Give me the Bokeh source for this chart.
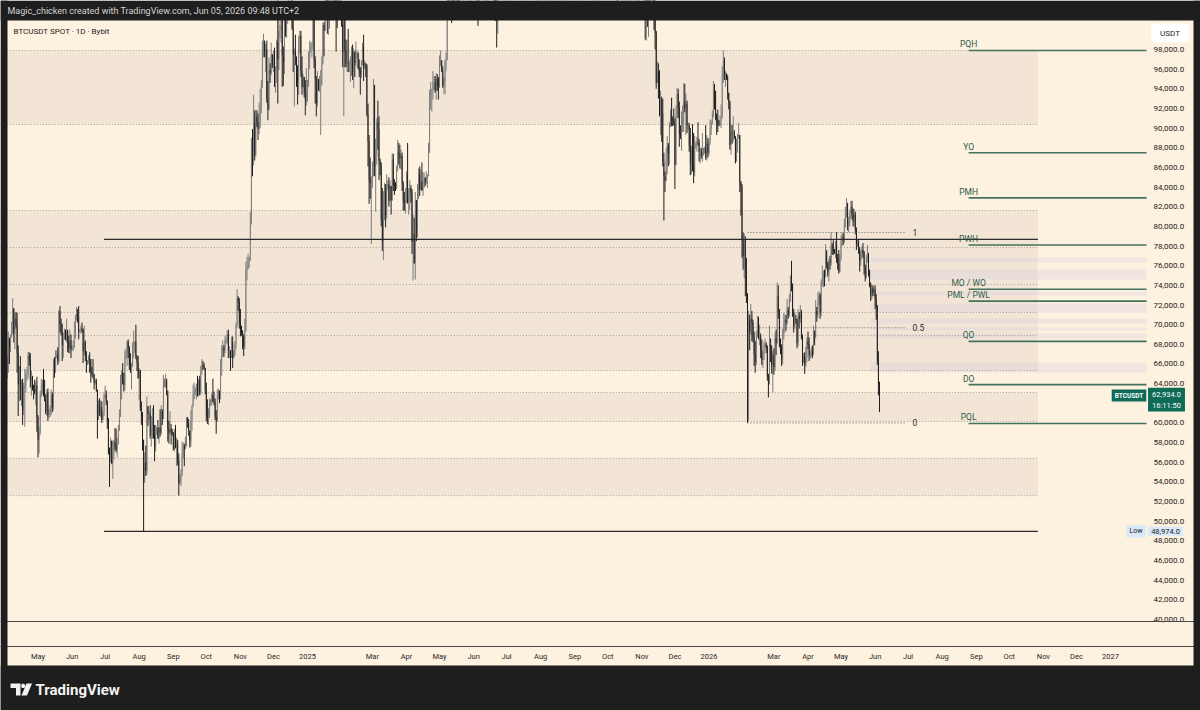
import numpy as np
import pandas as pd
from bokeh.plotting import figure
from bokeh.models import (Range1d, LinearAxis, FixedTicker, NumeralTickFormatter,
                          ColumnDataSource, Label, Span, PolyAnnotation, BoxAnnotation)
from bokeh.core.properties import value
from bokeh.embed import file_html
from bokeh.resources import INLINE

# ------------------------------------------------------------------ data
title_text = "Magic_chicken created with TradingView.com, Jun 05, 2026 09:48 UTC+2"
header_text = "BTCUSDT SPOT \u00b7 1D \u00b7 Bybit"
first_day = "2024-04-03"
first_open = 65.5  # thousand USDT (previous close)

# daily closes / highs / lows in thousand USDT, one line per month
close_2024 = [
    66.0, 68.5, 67.8, 68.9, 69.4, 71.6, 69.1, 70.6, 70.0, 67.1, 63.9, 65.7, 63.4, 63.8, 61.3, 63.5, 63.8, 64.9, 64.9, 66.8, 66.4, 64.3, 64.5, 63.8, 63.4, 63.1, 63.8, 60.6,
    58.3, 59.1, 62.9, 63.9, 64.0, 63.2, 62.3, 61.2, 63.1, 60.8, 60.8, 61.5, 62.9, 61.6, 66.3, 65.2, 67.0, 67.0, 66.3, 71.4, 70.1, 69.2, 67.9, 68.5, 69.3, 68.5, 69.4, 68.3, 67.6, 68.4, 67.5,
    67.8, 67.8, 68.8, 70.6, 71.1, 70.8, 69.3, 69.3, 69.6, 69.5, 67.3, 68.2, 66.8, 66.0, 66.2, 66.6, 66.5, 65.2, 65.0, 64.9, 64.1, 64.3, 63.2, 60.3, 61.8, 60.9, 61.6, 60.3, 60.9, 62.7,
    62.9, 62.1, 60.2, 57.0, 56.7, 58.2, 55.9, 56.7, 58.0, 57.7, 57.3, 57.9, 59.2, 60.8, 64.8, 65.1, 64.1, 63.9, 66.7, 67.2, 68.2, 67.6, 65.9, 65.4, 65.8, 67.9, 68.0, 68.3, 66.8, 66.2, 64.6,
    65.4, 61.5, 60.7, 58.1, 54.0, 56.0, 55.1, 61.7, 60.9, 60.9, 58.7, 59.4, 60.6, 58.7, 57.5, 58.9, 59.5, 58.4, 59.5, 59.0, 61.2, 60.4, 64.1, 64.2, 64.3, 62.9, 59.4, 59.0, 59.4, 59.1, 58.9,
    57.3, 59.1, 57.5, 58.0, 56.2, 53.9, 54.2, 54.9, 57.0, 57.6, 57.4, 58.1, 60.5, 60.0, 59.2, 58.2, 60.3, 61.8, 62.9, 63.2, 63.6, 63.6, 63.3, 64.3, 63.1, 65.2, 65.9, 65.8, 65.6, 63.3,
    60.8, 60.6, 60.8, 62.1, 62.1, 62.8, 62.2, 62.1, 60.6, 60.3, 62.4, 63.2, 62.9, 66.0, 67.0, 67.6, 67.4, 68.4, 68.4, 69.0, 67.4, 67.4, 66.7, 68.2, 66.6, 67.0, 68.0, 69.9, 72.7, 72.3, 70.2,
    69.5, 69.4, 68.8, 67.8, 69.4, 75.6, 75.9, 76.5, 76.7, 80.5, 88.7, 88.0, 90.5, 87.3, 91.1, 90.6, 89.9, 90.5, 92.3, 94.3, 98.3, 98.9, 97.7, 98.0, 93.0, 91.9, 95.9, 95.6, 97.5, 96.4,
    97.2, 95.8, 96.0, 98.8, 97.0, 99.9, 99.9, 101.2, 97.4, 96.7, 101.2, 100.0, 101.4, 101.4, 104.3, 106.0, 106.1, 100.2, 97.5, 97.8, 97.2, 95.2, 94.9, 98.7, 99.4, 95.8, 94.2, 95.2, 93.6, 92.8, 93.4,
]
high_2024 = [
    66.9, 69.3, 68.7, 69.0, 70.3, 72.7, 71.7, 71.2, 71.3, 71.2, 67.9, 65.8, 66.8, 64.4, 64.5, 64.1, 65.5, 65.4, 65.7, 67.2, 67.2, 67.1, 65.3, 64.8, 63.9, 64.4, 64.2, 64.7,
    60.8, 59.6, 63.3, 64.5, 64.4, 65.5, 64.4, 62.9, 63.4, 63.5, 61.4, 61.8, 63.4, 63.1, 66.5, 66.7, 67.4, 67.4, 67.7, 71.5, 71.9, 70.6, 70.1, 69.2, 69.6, 69.5, 70.6, 69.5, 68.9, 69.5, 69.0,
    67.9, 68.4, 70.3, 71.0, 71.8, 71.6, 71.9, 69.5, 69.9, 70.2, 69.6, 69.9, 68.4, 67.3, 66.4, 66.9, 67.2, 66.5, 65.7, 66.5, 65.0, 64.5, 64.5, 63.4, 62.3, 62.5, 62.3, 62.2, 61.2, 63.0,
    63.8, 63.3, 62.3, 60.5, 57.5, 58.5, 58.2, 58.2, 58.3, 59.5, 59.4, 58.5, 59.8, 61.4, 64.9, 65.4, 66.1, 65.1, 67.4, 67.6, 68.4, 68.5, 67.8, 67.1, 66.1, 68.2, 69.4, 68.3, 70.0, 66.9, 66.8,
    65.6, 65.0, 62.2, 61.1, 58.3, 57.0, 57.7, 62.7, 61.7, 61.2, 61.8, 60.7, 61.5, 61.8, 59.8, 59.8, 59.6, 60.3, 59.6, 61.4, 61.8, 61.4, 64.9, 64.5, 65.0, 64.5, 63.3, 60.2, 61.2, 59.9, 59.4,
    59.1, 59.4, 59.8, 58.5, 58.3, 56.9, 54.8, 55.3, 58.1, 58.0, 57.9, 58.6, 60.6, 60.6, 60.4, 59.2, 61.3, 61.8, 63.9, 64.1, 63.6, 64.0, 64.8, 64.5, 64.8, 65.8, 66.5, 66.3, 66.1, 65.6,
    64.1, 62.4, 61.5, 62.5, 62.4, 63.0, 64.5, 63.2, 62.5, 61.3, 63.4, 63.5, 63.3, 66.5, 67.9, 68.4, 67.9, 68.9, 68.7, 69.4, 69.5, 67.8, 67.4, 68.8, 68.8, 67.4, 68.3, 70.2, 73.6, 72.9, 72.7,
    71.6, 69.9, 69.4, 69.0, 70.6, 76.4, 76.9, 77.2, 76.9, 81.5, 89.0, 89.9, 93.4, 91.8, 91.9, 91.8, 91.5, 92.6, 94.0, 94.9, 98.9, 99.6, 98.9, 98.6, 98.9, 94.8, 97.2, 96.6, 98.7, 97.5,
    97.9, 98.2, 96.3, 99.0, 103.9, 101.9, 100.5, 101.4, 101.2, 98.3, 101.9, 102.5, 102.6, 102.6, 105.2, 107.8, 108.3, 106.5, 102.8, 98.1, 99.5, 97.3, 96.4, 99.4, 99.9, 99.9, 97.3, 95.5, 95.2, 94.9, 96.1,
]
low_2024 = [
    64.5, 65.1, 66.0, 67.2, 68.7, 69.0, 68.2, 67.5, 69.6, 65.1, 60.7, 62.2, 62.3, 61.7, 59.8, 60.8, 59.6, 63.1, 64.3, 64.5, 65.8, 63.6, 62.8, 63.3, 62.4, 62.9, 61.8, 59.1,
    56.5, 56.9, 58.8, 62.6, 62.9, 62.7, 62.2, 60.9, 60.7, 60.2, 60.5, 60.6, 60.8, 61.1, 61.3, 64.6, 65.1, 66.6, 65.9, 66.1, 69.2, 68.9, 66.3, 66.6, 68.5, 68.4, 68.2, 67.2, 67.1, 67.1, 66.6,
    67.4, 67.3, 67.6, 68.6, 70.4, 70.2, 68.5, 69.2, 69.1, 69.2, 66.1, 66.9, 66.3, 65.1, 65.9, 66.0, 65.1, 64.1, 64.7, 64.5, 63.4, 63.9, 63.2, 58.4, 60.3, 60.7, 60.6, 60.0, 60.4, 60.7,
    62.5, 61.8, 59.4, 56.8, 53.5, 56.0, 55.8, 54.3, 56.3, 57.2, 57.0, 56.5, 57.8, 59.3, 60.6, 62.4, 63.9, 63.2, 63.3, 66.5, 65.8, 66.6, 65.4, 65.1, 63.4, 65.7, 66.6, 67.1, 66.5, 65.3, 64.5,
    62.3, 61.2, 59.8, 57.2, 49.0, 53.9, 54.6, 54.7, 59.7, 60.3, 58.4, 57.6, 58.4, 58.4, 56.1, 57.1, 58.8, 58.4, 57.9, 58.6, 58.8, 59.8, 60.4, 63.6, 63.6, 62.8, 58.1, 57.9, 58.8, 57.8, 58.7,
    57.2, 57.1, 57.4, 55.6, 55.7, 52.6, 53.7, 53.6, 54.6, 56.4, 55.6, 57.3, 57.6, 59.5, 58.7, 57.5, 57.6, 59.2, 61.6, 62.4, 62.8, 62.4, 62.7, 62.7, 62.8, 62.9, 64.9, 65.4, 65.4, 62.9,
    60.2, 59.9, 59.8, 60.5, 61.7, 61.8, 62.1, 61.8, 60.3, 58.9, 60.1, 62.4, 62.0, 62.4, 64.8, 66.7, 66.7, 67.1, 68.0, 68.1, 66.6, 66.6, 65.3, 66.6, 65.6, 66.6, 66.8, 67.5, 69.7, 71.4, 69.6,
    68.8, 68.9, 67.5, 66.8, 67.5, 69.3, 74.5, 75.6, 75.8, 76.5, 80.2, 85.1, 86.2, 86.7, 87.1, 90.1, 88.8, 89.4, 90.0, 91.5, 94.1, 97.2, 97.2, 95.7, 92.6, 90.8, 91.8, 94.6, 95.4, 96.1,
    95.7, 94.2, 93.6, 94.6, 92.5, 95.9, 99.1, 98.7, 94.2, 94.3, 95.5, 99.3, 99.2, 100.6, 101.2, 103.3, 105.3, 100.0, 95.7, 92.2, 96.4, 94.2, 92.4, 93.4, 97.6, 95.2, 93.4, 94.1, 93.1, 91.3, 92.3,
]

close_2025 = [
    94.4, 96.9, 98.1, 98.2, 98.3, 102.1, 96.9, 95.0, 92.5, 94.7, 94.5, 94.5, 94.5, 96.5, 100.5, 99.9, 104.1, 104.4, 101.1, 102.0, 106.1, 103.6, 104.0, 104.8, 104.7, 102.6, 102.0, 101.3, 103.7, 104.7, 102.4,
    100.6, 97.7, 101.4, 97.9, 96.6, 96.6, 96.5, 96.5, 96.5, 97.4, 95.7, 97.8, 96.6, 97.5, 97.6, 96.1, 95.8, 95.5, 96.6, 98.3, 96.2, 96.6, 96.3, 91.5, 88.7, 84.7, 84.4, 84.4,
    86.1, 94.3, 86.1, 87.2, 90.6, 89.9, 86.7, 86.2, 80.7, 78.5, 82.9, 83.7, 81.1, 84.0, 84.3, 82.6, 84.1, 82.7, 86.8, 84.2, 84.1, 83.8, 86.1, 87.5, 87.4, 86.9, 87.2, 84.4, 82.6, 82.4, 82.5,
    85.2, 82.5, 83.1, 83.9, 83.5, 78.4, 79.2, 76.3, 82.6, 79.6, 83.4, 85.3, 83.8, 84.6, 83.7, 84.0, 84.9, 84.5, 85.1, 85.2, 87.5, 93.4, 93.7, 93.9, 94.7, 94.7, 93.8, 95.0, 94.3, 94.2,
    96.5, 96.9, 95.9, 94.3, 94.7, 96.8, 97.0, 103.2, 103.0, 104.7, 104.1, 102.8, 104.2, 103.5, 103.7, 103.5, 103.1, 106.5, 105.6, 106.8, 109.7, 111.7, 107.3, 108.0, 109.0, 109.4, 108.9, 107.8, 105.6, 103.9, 104.6,
    105.7, 105.8, 105.4, 104.7, 101.6, 104.4, 105.6, 105.8, 110.3, 110.3, 108.6, 105.7, 106.1, 105.4, 105.6, 107.0, 104.6, 104.9, 104.6, 103.3, 102.1, 100.9, 105.4, 106.0, 107.3, 106.9, 107.1, 107.3, 108.4, 107.1,
    105.7, 108.8, 109.6, 108.0, 108.2, 109.2, 108.3, 108.9, 111.3, 115.9, 117.5, 117.4, 119.1, 119.8, 117.7, 118.7, 119.3, 117.9, 117.9, 117.3, 117.4, 119.9, 118.7, 118.3, 117.6, 117.9, 119.4, 118.0, 117.9, 117.8, 115.7,
    113.3, 112.5, 114.2, 115.0, 114.1, 115.0, 117.5, 116.6, 116.5, 119.3, 118.7, 120.2, 123.3, 118.3, 117.4, 117.5, 117.4, 116.2, 112.9, 114.3, 112.5, 116.9, 115.4, 113.5, 110.1, 111.8, 111.3, 112.6, 108.4, 108.8, 108.3,
    109.3, 111.2, 111.7, 110.7, 110.2, 110.2, 111.1, 112.1, 111.5, 113.9, 115.5, 116.1, 115.9, 115.3, 115.4, 116.8, 116.5, 117.1, 115.7, 115.7, 115.3, 112.7, 112.0, 113.3, 109.0, 109.6, 109.7, 112.1, 114.4, 114.0,
    118.6, 120.6, 122.3, 122.4, 123.5, 124.7, 121.4, 123.3, 121.7, 113.2, 110.6, 115.1, 115.3, 113.0, 110.8, 108.2, 106.4, 107.2, 108.6, 110.5, 108.4, 107.6, 110.0, 111.0, 111.6, 114.5, 114.1, 112.9, 110.1, 108.3, 109.6,
    110.1, 110.6, 106.5, 101.5, 103.9, 101.3, 103.3, 102.3, 104.7, 105.9, 103.0, 101.6, 99.7, 94.6, 95.6, 94.2, 92.2, 92.9, 91.5, 86.6, 85.1, 84.7, 86.8, 88.3, 87.4, 90.5, 91.3, 90.9, 90.8, 90.4,
    86.3, 91.3, 93.5, 92.1, 89.4, 89.3, 90.4, 90.6, 92.7, 92.0, 92.5, 90.3, 90.3, 88.2, 86.4, 87.8, 86.2, 85.5, 88.1, 88.3, 88.6, 88.5, 87.6, 87.6, 87.2, 87.3, 87.8, 87.9, 87.1, 88.4, 87.5,
]
high_2025 = [
    94.9, 97.8, 98.9, 98.7, 98.8, 102.5, 102.7, 97.3, 95.3, 95.8, 95.0, 95.3, 95.9, 97.3, 100.7, 100.8, 105.9, 104.9, 106.3, 109.6, 107.2, 106.3, 106.8, 107.1, 105.3, 105.5, 103.2, 103.7, 104.8, 106.5, 106.0,
    102.8, 101.5, 102.5, 102.0, 99.0, 99.0, 100.1, 96.9, 97.3, 98.3, 98.5, 98.1, 97.2, 98.8, 97.9, 97.7, 97.0, 96.2, 96.9, 98.7, 99.5, 96.9, 96.5, 96.5, 92.5, 89.3, 87.0, 85.1,
    86.6, 95.0, 94.4, 88.9, 91.0, 92.8, 91.2, 86.9, 86.5, 83.9, 83.6, 84.4, 84.3, 85.3, 84.7, 85.0, 84.7, 84.0, 87.4, 87.4, 84.8, 84.5, 86.2, 88.8, 88.5, 88.3, 87.8, 87.5, 84.6, 83.5, 83.9,
    85.6, 88.5, 83.9, 84.7, 84.2, 83.8, 81.2, 80.9, 83.5, 82.7, 84.3, 85.9, 86.1, 85.8, 86.5, 85.5, 85.5, 85.0, 85.6, 85.3, 88.5, 93.9, 94.7, 94.0, 95.8, 95.3, 95.3, 95.6, 95.5, 95.2,
    97.4, 97.9, 96.9, 96.3, 95.2, 97.0, 97.7, 104.0, 104.3, 104.9, 105.0, 105.8, 104.9, 104.4, 104.2, 104.6, 103.7, 107.1, 107.1, 107.3, 110.8, 112.0, 111.9, 109.5, 109.3, 110.4, 110.7, 109.3, 108.9, 106.3, 104.9,
    105.9, 105.9, 106.8, 106.0, 105.0, 105.3, 105.9, 106.5, 110.6, 110.4, 110.4, 108.6, 106.2, 106.2, 106.0, 108.9, 107.8, 105.6, 105.2, 106.5, 104.0, 103.2, 106.1, 106.3, 108.0, 108.0, 107.8, 107.6, 108.5, 108.8,
    107.5, 109.8, 110.5, 109.7, 108.5, 109.7, 109.7, 109.0, 111.9, 116.8, 118.9, 118.2, 119.5, 123.2, 120.0, 119.3, 120.0, 120.9, 118.5, 118.9, 119.7, 120.2, 120.1, 119.5, 118.4, 118.3, 119.8, 119.8, 119.3, 118.8, 118.9,
    116.1, 114.1, 114.8, 115.8, 115.1, 115.7, 117.7, 117.7, 117.9, 119.4, 122.3, 120.3, 123.7, 124.5, 119.2, 117.9, 118.6, 117.6, 116.8, 114.6, 114.8, 117.4, 117.0, 115.6, 113.7, 112.4, 112.5, 113.4, 112.7, 108.9, 109.4,
    109.9, 111.8, 112.6, 111.8, 113.4, 110.9, 111.3, 112.9, 113.2, 114.3, 115.6, 116.4, 116.3, 116.1, 116.8, 117.0, 117.3, 117.9, 117.5, 116.2, 116.0, 115.4, 113.3, 114.0, 113.5, 110.3, 110.0, 112.4, 114.5, 114.8,
    118.9, 121.0, 123.9, 122.9, 125.7, 126.2, 125.1, 124.2, 123.8, 122.6, 113.6, 115.7, 115.9, 115.5, 113.5, 111.8, 109.2, 107.5, 109.4, 111.7, 114.0, 109.2, 111.3, 112.0, 111.9, 114.6, 116.0, 116.1, 113.6, 111.6, 111.2,
    110.6, 111.2, 110.8, 106.6, 104.5, 104.2, 104.0, 103.4, 105.0, 106.7, 107.5, 105.3, 104.0, 99.9, 96.8, 96.6, 95.9, 93.8, 93.2, 93.0, 87.5, 85.6, 88.0, 89.2, 88.5, 90.6, 91.9, 93.1, 91.2, 92.0,
    91.0, 92.3, 94.1, 94.0, 92.7, 90.3, 91.7, 92.3, 94.6, 94.5, 93.5, 92.8, 90.6, 90.5, 90.0, 88.2, 90.4, 89.5, 89.2, 88.6, 89.1, 90.6, 88.9, 87.9, 88.0, 89.5, 88.0, 88.1, 90.3, 89.3, 89.0,
]
low_2025 = [
    92.7, 94.2, 96.0, 97.7, 97.2, 97.9, 96.1, 92.5, 91.2, 92.2, 93.8, 93.7, 89.3, 94.3, 96.5, 97.3, 99.9, 102.3, 99.6, 99.5, 100.1, 103.3, 101.2, 102.7, 104.1, 102.5, 97.8, 100.2, 101.3, 103.3, 101.6,
    100.3, 96.2, 91.2, 96.2, 96.2, 95.7, 95.7, 95.7, 94.7, 95.3, 94.9, 94.1, 95.2, 96.3, 97.1, 96.0, 95.2, 93.4, 95.1, 96.4, 94.8, 96.0, 95.2, 91.2, 86.1, 82.3, 82.8, 78.2,
    83.9, 85.1, 85.1, 81.5, 86.3, 87.8, 84.7, 85.2, 80.0, 77.5, 76.6, 80.6, 79.9, 80.8, 83.7, 82.0, 82.5, 81.2, 82.6, 83.6, 83.2, 83.6, 83.8, 85.6, 86.3, 85.9, 85.8, 83.6, 81.6, 81.6, 81.3,
    82.4, 82.3, 81.2, 81.7, 82.4, 77.2, 74.5, 76.2, 74.6, 78.5, 78.9, 82.8, 83.1, 83.7, 83.6, 83.1, 83.9, 84.1, 84.3, 83.9, 85.1, 87.6, 91.9, 91.7, 92.9, 93.9, 93.6, 92.9, 93.8, 92.9,
    94.1, 96.3, 95.7, 94.1, 93.5, 93.4, 95.8, 96.9, 102.3, 102.8, 103.5, 100.7, 101.4, 102.6, 101.4, 103.1, 102.6, 102.8, 102.0, 104.9, 106.1, 109.3, 106.8, 106.9, 106.6, 108.7, 107.6, 106.8, 105.3, 103.6, 103.1,
    103.9, 103.7, 105.1, 104.2, 100.4, 101.1, 104.0, 105.1, 105.3, 108.4, 108.1, 105.4, 102.7, 104.3, 104.5, 105.1, 103.4, 103.6, 103.9, 102.4, 100.9, 98.2, 99.6, 104.7, 105.3, 106.4, 106.1, 106.9, 107.2, 106.8,
    105.3, 105.6, 108.6, 107.3, 107.8, 107.9, 107.5, 107.5, 108.4, 111.2, 115.9, 116.9, 117.2, 118.9, 116.0, 115.8, 117.7, 117.4, 117.3, 116.5, 116.4, 116.3, 117.3, 117.2, 114.8, 117.5, 117.9, 117.6, 116.9, 115.8, 115.5,
    112.7, 111.9, 112.0, 114.0, 112.6, 113.4, 114.3, 115.9, 116.0, 116.6, 118.2, 118.1, 119.7, 117.2, 116.8, 117.2, 117.3, 114.7, 112.6, 112.4, 111.9, 111.7, 114.6, 112.0, 109.6, 109.3, 110.3, 110.8, 107.5, 107.5, 108.1,
    107.3, 108.4, 110.5, 109.3, 109.9, 109.9, 110.0, 110.2, 110.6, 110.9, 113.4, 114.7, 115.2, 114.6, 114.4, 114.8, 114.7, 116.0, 115.4, 115.4, 115.1, 112.0, 111.0, 111.4, 108.6, 108.6, 109.1, 109.4, 111.6, 112.6,
    113.9, 118.4, 119.3, 121.7, 121.9, 123.0, 120.4, 121.1, 119.5, 102.0, 109.7, 109.7, 113.6, 110.0, 110.0, 107.5, 103.5, 106.3, 106.6, 107.5, 107.5, 106.8, 107.4, 109.7, 110.9, 111.3, 113.8, 111.9, 109.9, 106.3, 108.0,
    109.4, 109.5, 105.3, 99.0, 98.9, 100.3, 99.3, 101.4, 101.5, 104.3, 102.5, 100.0, 98.0, 94.0, 94.6, 93.0, 91.2, 89.3, 88.6, 86.1, 80.6, 83.5, 84.6, 85.3, 86.1, 86.3, 90.1, 90.2, 90.2, 90.3,
    83.8, 86.2, 91.0, 91.0, 88.1, 88.9, 87.7, 89.6, 89.6, 91.6, 89.3, 89.5, 89.8, 87.6, 85.2, 85.3, 85.6, 84.4, 85.1, 87.9, 87.6, 88.2, 86.6, 86.4, 86.9, 86.6, 87.2, 87.4, 86.8, 86.7, 87.0,
]

close_2026 = [
    88.7, 90.0, 90.6, 91.4, 93.8, 93.7, 91.3, 90.9, 90.5, 90.4, 90.8, 91.1, 95.4, 96.9, 95.5, 95.5, 95.1, 93.6, 92.6, 88.3, 89.6, 89.5, 89.5, 89.1, 86.6, 88.3, 89.2, 89.3, 84.6, 84.1, 78.6,
    77.0, 78.6, 75.6, 73.0, 62.8, 70.5, 69.3, 70.6, 70.2, 68.7, 67.0, 66.2, 68.9, 69.8, 68.8, 68.9, 67.5, 66.4, 66.9, 68.0, 68.0, 67.7, 64.7, 64.1, 67.9, 67.5, 65.9, 66.9,
    65.7, 68.6, 68.2, 72.9, 71.3, 68.3, 67.6, 66.5, 68.9, 70.0, 70.5, 70.2, 71.5, 71.0, 72.6, 74.5, 74.0, 71.2, 69.9, 70.6, 70.5, 68.1, 70.9, 70.6, 71.3, 68.8, 66.3, 66.8, 65.9, 66.7, 68.3,
    68.0, 66.9, 66.9, 67.3, 67.1, 69.1, 68.8, 71.4, 71.0, 72.2, 73.0, 71.2, 74.3, 74.7, 75.1, 75.0, 77.4, 76.2, 75.3, 76.4, 76.3, 78.0, 77.9, 77.5, 77.4, 78.1, 76.9, 76.2, 75.4, 76.8,
    78.4, 78.9, 78.6, 80.4, 81.5, 82.2, 80.1, 80.4, 81.3, 82.0, 81.3, 80.5, 81.2, 79.6, 78.2, 78.3, 77.5, 76.5, 77.2, 77.6, 77.3, 75.9, 74.8, 76.9, 77.2, 75.3, 74.0, 73.0, 73.7, 73.2, 73.6,
    72.6, 71.8, 66.4, 63.9, 62.934,
]
high_2026 = [
    88.9, 90.9, 90.8, 91.8, 94.8, 94.5, 93.8, 91.5, 91.9, 90.8, 91.3, 92.4, 96.3, 97.9, 97.2, 95.8, 95.6, 95.4, 93.4, 92.8, 90.4, 90.3, 91.2, 89.8, 89.2, 88.9, 89.4, 90.5, 89.3, 84.6, 84.3,
    79.4, 79.3, 79.0, 76.8, 73.2, 71.4, 71.0, 72.1, 71.4, 70.5, 69.3, 68.3, 69.4, 70.9, 70.8, 70.0, 69.1, 68.5, 67.3, 68.3, 68.6, 68.2, 67.9, 65.0, 69.9, 68.6, 67.9, 67.3,
    67.6, 69.2, 69.5, 74.3, 74.0, 71.6, 68.6, 68.0, 69.6, 71.2, 71.0, 71.0, 72.6, 71.8, 73.1, 75.0, 76.5, 74.2, 71.6, 71.3, 71.0, 70.6, 71.6, 71.3, 72.0, 71.5, 69.0, 67.1, 67.2, 67.8, 68.7,
    69.3, 68.7, 67.4, 67.7, 67.9, 69.9, 69.4, 72.5, 71.8, 73.3, 73.4, 73.2, 74.6, 76.0, 75.5, 75.6, 78.2, 77.6, 76.4, 76.7, 77.0, 79.4, 78.3, 78.6, 77.7, 78.5, 79.4, 77.2, 77.6, 77.2,
    79.1, 79.4, 79.3, 80.8, 82.0, 82.9, 82.4, 81.0, 81.7, 82.6, 82.6, 81.8, 81.8, 81.5, 79.9, 78.7, 78.6, 77.9, 77.6, 78.0, 78.3, 77.5, 76.1, 77.1, 78.1, 77.3, 75.6, 74.3, 74.1, 74.0, 73.9,
    74.0, 73.1, 72.0, 67.3, 64.2,
]
low_2026 = [
    87.2, 88.3, 89.3, 90.4, 91.1, 91.9, 90.8, 89.3, 89.6, 90.2, 90.2, 90.0, 91.0, 94.6, 94.9, 94.2, 94.9, 92.9, 91.9, 87.8, 87.3, 88.4, 88.6, 88.9, 86.4, 86.8, 87.5, 88.9, 83.5, 81.1, 76.8,
    75.6, 74.7, 72.9, 72.2, 60.0, 60.2, 67.4, 69.0, 68.3, 68.2, 65.8, 65.1, 65.9, 68.7, 68.5, 67.9, 66.6, 65.9, 65.6, 66.4, 67.6, 67.1, 64.3, 62.6, 63.9, 66.2, 65.0, 63.1,
    64.9, 65.3, 66.9, 68.0, 70.6, 67.7, 67.0, 65.8, 66.0, 68.5, 69.2, 69.4, 70.0, 70.6, 70.8, 72.3, 73.4, 70.8, 69.2, 69.6, 70.1, 67.6, 67.8, 69.6, 70.2, 68.5, 65.8, 66.1, 65.0, 65.7, 66.2,
    67.5, 66.3, 66.5, 66.7, 66.6, 66.9, 67.9, 68.6, 70.3, 70.7, 72.0, 70.6, 70.9, 73.9, 73.8, 73.9, 74.8, 75.7, 74.9, 74.4, 75.6, 76.0, 77.1, 77.1, 77.2, 76.8, 76.3, 75.6, 75.2, 75.3,
    76.5, 78.0, 78.1, 78.3, 79.9, 80.9, 79.6, 79.4, 80.0, 80.8, 80.7, 80.0, 79.9, 79.2, 77.6, 77.9, 77.2, 75.4, 76.0, 76.7, 76.8, 75.1, 74.4, 74.7, 76.3, 74.9, 73.8, 72.4, 72.6, 72.9, 72.9,
    71.6, 70.5, 65.9, 62.8, 61.1,
]

last_price = 62934.0
last_countdown = "16:11:50"
all_time_low_label = 48974.0

# price axis and time axis ticks
price_ticks = [40000, 42000, 44000, 46000, 48000, 50000, 52000, 54000, 56000, 58000,
               60000, 62000, 64000, 66000, 68000, 70000, 72000, 74000, 76000, 78000,
               80000, 82000, 84000, 86000, 88000, 90000, 92000, 94000, 96000, 98000]
month_ticks = ["2024-05-01", "2024-06-01", "2024-07-01", "2024-08-01", "2024-09-01", "2024-10-01",
               "2024-11-01", "2024-12-01", "2025-01-01", "2025-03-01", "2025-04-01", "2025-05-01",
               "2025-06-01", "2025-07-01", "2025-08-01", "2025-09-01", "2025-10-01", "2025-11-01",
               "2025-12-01", "2026-01-01", "2026-03-01", "2026-04-01", "2026-05-01", "2026-06-01",
               "2026-07-01", "2026-08-01", "2026-09-01", "2026-10-01", "2026-11-01", "2026-12-01",
               "2027-01-01"]
month_labels = ["May", "Jun", "Jul", "Aug", "Sep", "Oct", "Nov", "Dec", "2025", "Mar", "Apr", "May",
                "Jun", "Jul", "Aug", "Sep", "Oct", "Nov", "Dec", "2026", "Mar", "Apr", "May", "Jun",
                "Jul", "Aug", "Sep", "Oct", "Nov", "Dec", "2027"]

# key levels (labelled, green)
level_names = ["PQH", "YO", "PMH", "PWH", "MO / WO", "PML / PWL", "QO", "DO", "PQL"]
level_prices = [97900, 87500, 82900, 78100, 73600, 72400, 68300, 63900, 59950]
level_start = "2026-08-25"

# zone boundaries (dotted) and shaded zones
zone_lines = [97900, 90370, 81620, 77850, 74090, 71240, 68900, 65340, 63100, 60150, 56400, 52600]
zone_bottoms = [90370, 65340, 60150, 52600]
zone_tops = [97900, 81620, 63100, 56400]
zone_start = "2024-03-20"
zone_end = "2026-10-27"

# imbalance stripes
gap_bottoms = [76330, 74600, 72970, 71240, 70120, 69410, 68600, 65130]
gap_tops = [76840, 75610, 73380, 72160, 70630, 69710, 69100, 66150]
gap_start = "2026-05-28"

# horizontal rays (black)
ray_prices = [78670, 48974]
ray_start = "2024-06-30"
ray_end = "2026-10-27"

# fibonacci
fib_labels = ["1", "0.5", "0"]
fib_prices = [79380, 69690, 60000]
fib_start = "2026-02-05"
fib_end = "2026-06-29"
fib_text_day = "2026-07-05"

# ------------------------------------------------------------------ layout / style
W, H = 1200, 710
PANEL_L, PANEL_R, PANEL_T, PANEL_B = 7, 1193, 20, 665   # beige chart panel
PANE_R = 1146          # right edge of the price pane (price scale starts here)
PANE_B = 621           # bottom of the price pane
TIME_AXIS_Y = 646      # top of the time scale
PX_PER_DAY = 1.1
ANCHOR_DAY, ANCHOR_X = pd.Timestamp("2025-01-01"), 307
ANCHOR_PRICE, ANCHOR_Y = 98000.0, 49
PX_PER_USD = 9.8276 / 1000.0

BG = "#FDF1DF"
BAND = "#F2E5D6"
DARK = "#1E1E1E"
UP = "#7C7C7C"
DOWN = "#1E1E1E"
GREEN_LINE = "#44705E"
GREEN_TEXT = "#2F5B4B"
DOT = "#A39D96"
TAG = "#0E6B56"
FONT = "Roboto"


def ms(t):
    return pd.Timestamp(t).value / 1e6


def ts(lst):
    return list(pd.to_datetime(lst))


def day_at(px):
    return ANCHOR_DAY + pd.Timedelta(days=(px - ANCHOR_X) / PX_PER_DAY)


def price_at(py):
    return ANCHOR_PRICE - (py - ANCHOR_Y) / PX_PER_USD


x_start, x_end = day_at(0), day_at(W)
y_top, y_bot = price_at(0), price_at(H)
pane_right_day = day_at(PANE_R)

# ------------------------------------------------------------------ candles
closes = np.array(close_2024 + close_2025 + close_2026) * 1000
highs = np.array(high_2024 + high_2025 + high_2026) * 1000
lows = np.array(low_2024 + low_2025 + low_2026) * 1000
n = min(len(closes), len(highs), len(lows))
closes, highs, lows = closes[:n], highs[:n], lows[:n]
opens = np.concatenate([[first_open * 1000], closes[:-1]])
highs = np.maximum(highs, np.maximum(opens, closes))
lows = np.minimum(lows, np.minimum(opens, closes))
dates = pd.date_range(first_day, periods=n, freq="D")
up = closes >= opens

df = pd.DataFrame(dict(t=dates, o=opens, h=highs, l=lows, c=closes,
                       top=np.maximum(opens, closes), bot=np.minimum(opens, closes)))
src_up = ColumnDataSource(df[up])
src_dn = ColumnDataSource(df[~up])

p = figure(width=W, height=H,
           x_range=Range1d(ms(x_start), ms(x_end)), y_range=Range1d(y_bot, y_top),
           x_axis_type=None, y_axis_type=None,
           output_backend="svg", toolbar_location=None,
           min_border=0, min_border_left=0, min_border_right=0, min_border_top=0, min_border_bottom=0,
           background_fill_color=BG, border_fill_color=DARK, outline_line_color=None)

# shaded zones
nz = len(zone_bottoms)
p.quad(left=ts([zone_start] * nz), right=ts([zone_end] * nz), bottom=zone_bottoms, top=zone_tops,
       fill_color=BAND, line_color=None)
# imbalance stripes
ng = len(gap_bottoms)
p.quad(left=ts([gap_start] * ng), right=[pane_right_day] * ng, bottom=gap_bottoms, top=gap_tops,
       fill_color="#D9CDE2", fill_alpha=0.35, line_color=None)
# dotted zone lines
nl = len(zone_lines)
p.segment(x0=ts([zone_start] * nl), x1=ts([zone_end] * nl), y0=zone_lines, y1=zone_lines,
          line_color=DOT, line_dash="1 2", line_width=1)

# candles
wbody = 0.65 * 86400000
p.segment(x0="t", x1="t", y0="l", y1="h", source=src_up, line_color=UP, line_width=1)
p.vbar(x="t", width=wbody, top="top", bottom="bot", source=src_up, fill_color=UP, line_color=None)
p.segment(x0="t", x1="t", y0="l", y1="h", source=src_dn, line_color=DOWN, line_width=1)
p.vbar(x="t", width=wbody, top="top", bottom="bot", source=src_dn, fill_color=DOWN, line_color=None)

# black rays
nr = len(ray_prices)
p.segment(x0=ts([ray_start] * nr), x1=ts([ray_end] * nr), y0=ray_prices, y1=ray_prices,
          line_color="#2A2A2A", line_width=1.2)

# fib
nf = len(fib_prices)
p.segment(x0=ts([fib_start] * nf), x1=ts([fib_end] * nf), y0=fib_prices, y1=fib_prices,
          line_color="#6A6A6A", line_dash="1 2", line_width=1)
p.text(x=ts([fib_text_day] * nf), y=fib_prices, text=fib_labels, text_font=value(FONT),
       text_font_size="8.5px", text_color="#2A2A2A", text_align="left", text_baseline="middle")

# green key levels
nk = len(level_prices)
p.segment(x0=ts([level_start] * nk), x1=[pane_right_day] * nk, y0=level_prices, y1=level_prices,
          line_color=GREEN_LINE, line_width=1.6)
p.text(x=ts([level_start] * nk), y=level_prices, text=level_names, text_font=value(FONT),
       text_font_size="8.5px", text_color=GREEN_TEXT, text_align="center", text_baseline="bottom",
       y_offset=-1)

# pane separator
p.add_layout(Span(location=price_at(PANE_B), dimension="width", line_color="#4A4A4A", line_width=1))

# axes (placed at fixed locations inside the panel)
yax = LinearAxis(ticker=FixedTicker(ticks=price_ticks), formatter=NumeralTickFormatter(format="0,0.0"),
                 fixed_location=ms(pane_right_day),
                 major_tick_line_color=None, minor_tick_line_color=None, axis_line_color=None,
                 major_tick_in=0, major_tick_out=0, minor_tick_in=0, minor_tick_out=0,
                 major_label_text_font=FONT, major_label_text_font_size="8px",
                 major_label_text_color="#1C1C1C", major_label_standoff=7)
p.add_layout(yax, "right")

tick_ms = [ms(t) for t in month_ticks]
xax = LinearAxis(ticker=FixedTicker(ticks=tick_ms),
                 major_label_overrides={tm: lab for tm, lab in zip(tick_ms, month_labels)},
                 fixed_location=price_at(TIME_AXIS_Y),
                 major_tick_line_color=None, minor_tick_line_color=None,
                 major_tick_in=0, major_tick_out=0, minor_tick_in=0, minor_tick_out=0,
                 axis_line_color="#4A4A4A", axis_line_width=1,
                 major_label_text_font=FONT, major_label_text_font_size="7.5px",
                 major_label_text_color="#2A2A2A", major_label_standoff=5)
p.add_layout(xax, "below")


def box(l, r, t, b):
    # canvas pixel box -> screen-unit annotation (y measured from bottom)
    return BoxAnnotation(left=l, right=r, top=H - t, bottom=H - b,
                         left_units="screen", right_units="screen", top_units="screen", bottom_units="screen",
                         fill_color=DARK, fill_alpha=1, line_color=None, level="annotation")


# dark frame around the chart panel
p.add_layout(box(0, W, 0, PANEL_T))
p.add_layout(box(0, W, PANEL_B, H))
p.add_layout(box(0, PANEL_L, 0, H))
p.add_layout(box(PANEL_R, W, 0, H))


def lab(xc, yc, text, **kw):
    return Label(x=xc, y=H - yc, x_units="screen", y_units="screen", text=text, text_font=FONT, **kw)


# top banner
p.add_layout(lab(7, 10, title_text, text_font_size="9px", text_color="#D4D4D4",
                 text_align="left", text_baseline="middle"))
# header inside chart
p.add_layout(lab(13, 31, header_text, text_font_size="8px", text_color="#1C1C1C",
                 text_align="left", text_baseline="middle"))
# currency box
p.add_layout(lab(1169.5, 32.5, "USDT", text_font_size="8px", text_color="#1C1C1C",
                 text_align="center", text_baseline="middle",
                 background_fill_color="#FFFFFF", border_radius=3,
                 padding=dict(left=9, right=9, top=5, bottom=5)))

# last price tags (vertical position from the price itself)
p.add_layout(Label(x=1128.5, y=last_price, x_units="screen", y_offset=-1.5, text="BTCUSDT",
                   text_font=FONT, text_font_size="6.5px", text_font_style="bold", text_color="#FFFFFF",
                   text_align="center", text_baseline="middle", background_fill_color=TAG,
                   padding=dict(left=3, right=3, top=2, bottom=2)))
p.add_layout(Label(x=1166, y=last_price, x_units="screen", y_offset=-5.5,
                   text=f"{last_price:,.1f}\n{last_countdown}",
                   text_font=FONT, text_font_size="7.5px", text_color="#FFFFFF",
                   text_align="center", text_baseline="middle", background_fill_color=TAG,
                   padding=dict(left=4, right=4, top=2, bottom=2)))
p.add_layout(Label(x=1135.5, y=all_time_low_label, x_units="screen", text="Low",
                   text_font=FONT, text_font_size="7px", text_color="#1C1C1C",
                   text_align="center", text_baseline="middle", background_fill_color="#D9E8F8",
                   padding=dict(left=3, right=3, top=2, bottom=2)))
p.add_layout(Label(x=1165, y=all_time_low_label, x_units="screen", text=f"{all_time_low_label:,.1f}",
                   text_font=FONT, text_font_size="7.5px", text_color="#1C1C1C",
                   text_align="center", text_baseline="middle", background_fill_color="#D9E8F8",
                   padding=dict(left=3, right=3, top=2, bottom=2)))


# footer logo + wordmark
def poly(pts):
    return PolyAnnotation(xs=[x for x, _ in pts], ys=[H - y for _, y in pts],
                          xs_units="screen", ys_units="screen",
                          fill_color="#F2F2F2", fill_alpha=1, line_color=None)


p.add_layout(poly([(10, 683), (20, 683), (20, 695), (15.5, 695), (15.5, 687.5), (10, 687.5)]))
p.add_layout(poly([(21.3, 683.2), (23.8, 683.2), (25, 685.4), (23.8, 687.6), (21.3, 687.6), (20.6, 685.4)]))
p.add_layout(poly([(26, 683), (31.5, 683), (26.5, 695), (21, 695)]))
p.add_layout(lab(35, 689, "TradingView", text_font_size="15px", text_font_style="bold",
                 text_color="#F2F2F2", text_align="left", text_baseline="middle"))

open("out.html", "w").write(file_html(p, INLINE))
